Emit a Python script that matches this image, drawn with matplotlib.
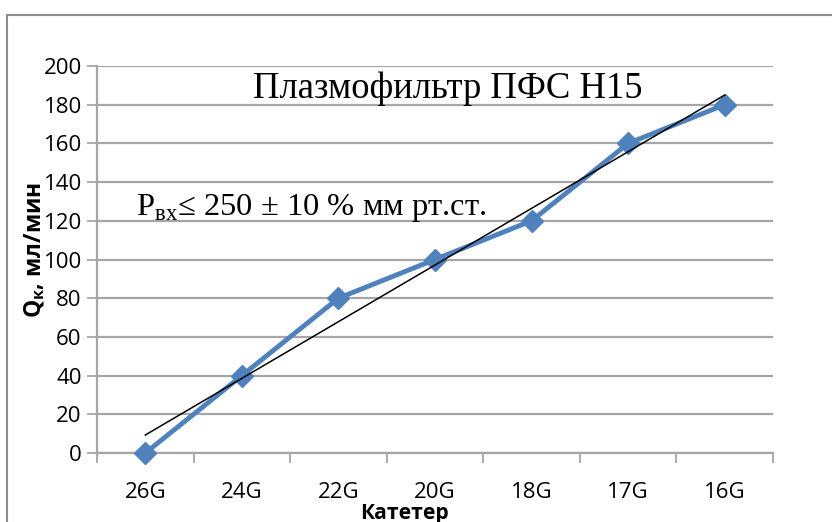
import numpy as np
import matplotlib
matplotlib.use("Agg")
import matplotlib.pyplot as plt
from matplotlib.patches import Rectangle

categories = ["26G", "24G", "22G", "20G", "18G", "17G", "16G"]
flow = [0, 40, 80, 100, 120, 160, 180]
y_ticks = [0, 20, 40, 60, 80, 100, 120, 140, 160, 180, 200]

plt.rcParams["mathtext.fontset"] = "custom"
plt.rcParams["mathtext.rm"] = "Liberation Serif"
plt.rcParams["mathtext.bf"] = "Open Sans:bold"

W, H = 832, 522
fig = plt.figure(figsize=(W / 100, H / 100), dpi=100)
fig.patch.set_facecolor("white")

# outer chart frame
fig.patches.append(Rectangle((7 / W, -0.2), 1.0, 1 - 15 / H + 0.2, transform=fig.transFigure,
                             fill=False, edgecolor="#8c8c8c", linewidth=1.5))

ax = fig.add_axes([97 / W, 1 - 453 / H, (773 - 97) / W, (453 - 66) / H])
x = np.arange(len(categories))

grid_c = "#a6a6a6"
ax.set_ylim(0, 200)
ax.set_xlim(-0.5, len(categories) - 0.5)
ax.set_yticks(y_ticks)
ax.yaxis.grid(True, color=grid_c, linewidth=1.6)
ax.set_axisbelow(True)

for s in ["top", "right"]:
    ax.spines[s].set_visible(False)
for s in ["left", "bottom"]:
    ax.spines[s].set_color(grid_c)
    ax.spines[s].set_linewidth(1.6)

ax.set_xticks(np.arange(-0.5, len(categories)), labels=[""] * (len(categories) + 1))
ax.set_xticks(x, labels=categories, minor=True)
ax.tick_params(axis="x", which="major", length=7, color=grid_c, width=1.3)
ax.tick_params(axis="x", which="minor", length=0, pad=21, labelsize=16)
ax.tick_params(axis="y", length=7, color=grid_c, width=1.3, labelsize=16, pad=4)
for lab in ax.get_xticklabels(minor=True) + ax.get_yticklabels():
    lab.set_family(["Open Sans", "DejaVu Sans"])

ax.plot(x, flow, color="#4f81bd", linewidth=3.5, marker="D", markersize=11,
        markeredgecolor="#4f81bd", zorder=3, clip_on=False)

# linear trend line
k, b = np.polyfit(x, flow, 1)
ax.plot(x, k * x + b, color="black", linewidth=1.1, zorder=4)

ax.text(3.13, 183.5, "Плазмофильтр ПФС Н15", ha="center", va="baseline",
        family="Liberation Serif", fontsize=26.4)
ax.text(-0.1, 123, r"P$_{\mathrm{вх}}$≤ 250 ± 10 % мм рт.ст.",
        ha="left", va="baseline", family="Liberation Serif", fontsize=23.4)

fig.text(35 / W, 1 - 250 / H, r"$\mathbf{Q}_{\mathbf{к}}$, мл/мин", rotation=90, ha="center", va="center",
         family=["Open Sans", "DejaVu Sans"], fontweight="bold", fontsize=16.5)
fig.text(405 / W, 1 - 513 / H, "Катетер", ha="center", va="center",
         family=["Open Sans", "DejaVu Sans"], fontweight="bold", fontsize=15.2)

fig.savefig("out.png", dpi=100)
